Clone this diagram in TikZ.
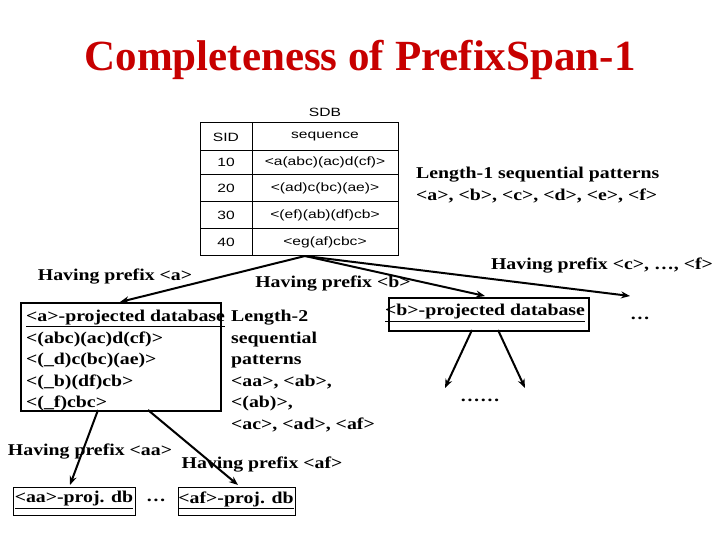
\documentclass[tikz,border=0pt]{standalone}
\usepackage{fontspec}
\usetikzlibrary{arrows.meta}
\setmainfont{Liberation Serif}
\newfontfamily\wide[FakeStretch=1.2]{Liberation Serif}
\newfontfamily\tabfont[FakeStretch=1.3]{Liberation Sans}
\begin{document}
\begin{tikzpicture}[x=1pt,y=-1pt,
  lbl/.style={font=\wide\bfseries\fontsize{16.5}{21.5}\selectfont,inner sep=0pt},
  tb/.style={font=\tabfont\fontsize{12}{13}\selectfont,inner sep=0pt},
  arr/.style={-{Stealth[length=9pt,width=7pt]},line width=2pt},
  bx/.style={draw,line width=1.8pt}]
\useasboundingbox (0,0) rectangle (720,540);
\node[font=\bfseries\fontsize{43}{48}\selectfont,text=red!78!black] (title) at (360,60) {Completeness of PrefixSpan-1};
% table
\draw[line width=1pt] (200,123) rectangle (398,255);
\foreach \y in {150,174,201,228} \draw[line width=0.7pt] (200,\y) -- (398,\y);
\draw[line width=0.7pt] (252,123) -- (252,255);
\node[tb] (sdb) at (325,112) {SDB};
\node[tb] (sid) at (226,137) {SID};
\node[tb] (seq) at (325,137) {sequence};
\node[tb] (r1a) at (226,162) {10}; \node[tb] (r1b) at (325,162) {<a(abc)(ac)d(cf)>};
\node[tb] (r2a) at (226,188) {20}; \node[tb] (r2b) at (325,188) {<(ad)c(bc)(ae)>};
\node[tb] (r3a) at (226,215) {30}; \node[tb] (r3b) at (325,215) {<(ef)(ab)(df)cb>};
\node[tb] (r4a) at (226,242) {40}; \node[tb] (r4b) at (325,242) {<eg(af)cbc>};
\coordinate (tbot) at (305,256);
\node[lbl,align=left,anchor=west] (len1) at (416,185) {Length-1 sequential patterns\\<a>, <b>, <c>, <d>, <e>, <f>};
% a box
\node[bx,anchor=north west,minimum width=200pt,minimum height=108pt] (abox) at (20,302) {};
\node[lbl,align=left,anchor=north west] (atext) at (26,310) {\underline{<a>-projected database}\\<(abc)(ac)d(cf)>\\<(\_d)c(bc)(ae)>\\<(\_b)(df)cb>\\<(\_f)cbc>};
\node[lbl,align=left,anchor=north west] (len2) at (231,310) {Length-2\\sequential\\patterns\\<aa>, <ab>,\\<(ab)>,\\<ac>, <ad>, <af>};
\node[bx,anchor=north west,minimum width=200pt,minimum height=33pt] (bbox) at (388,297) {};
\node[lbl] (btext) at (485,313) {\underline{<b>-projected database}};
\node[lbl] (dots1) at (640,318) {…};
\node[lbl] (dots2) at (480,400) {……};
\node[bx,anchor=north west,minimum width=122pt,minimum height=28pt,line width=1.2pt] (aabox) at (13,487) {};
\node[lbl] (aat) at (74,500) {\underline{<aa>-proj. db}};
\node[lbl] (dots3) at (156,500) {…};
\node[bx,anchor=north west,minimum width=117pt,minimum height=28pt,line width=1.2pt] (afbox) at (178,487) {};
\node[lbl] (aft) at (236,500) {\underline{<af>-proj. db}};
% labels
\node[lbl] (pa) at (115,277) {Having prefix <a>};
\node[lbl] (pb) at (333,284) {Having prefix <b>};
\node[lbl] (pc) at (602,266) {Having prefix <c>, …, <f>};
\node[lbl] (paa) at (90,452) {Having prefix <aa>};
\node[lbl] (paf) at (262,465) {Having prefix <af>};
% arrows
\coordinate (ea) at (120,302);
\coordinate (eb) at (485,296);
\coordinate (ec) at (630,296);
\draw[arr] (tbot) -- (ea);
\draw[arr] (tbot) -- (eb);
\draw[arr] (tbot) -- (ec);
\coordinate (b1s) at (472,330); \coordinate (b1e) at (445,388);
\coordinate (b2s) at (498,330); \coordinate (b2e) at (525,388);
\draw[arr] (b1s) -- (b1e);
\draw[arr] (b2s) -- (b2e);
\coordinate (a1s) at (98,410); \coordinate (a1e) at (70,485);
\coordinate (a2s) at (148,410); \coordinate (a2e) at (238,485);
\draw[arr] (a1s) -- (a1e);
\draw[arr] (a2s) -- (a2e);
\end{tikzpicture}
\end{document}
